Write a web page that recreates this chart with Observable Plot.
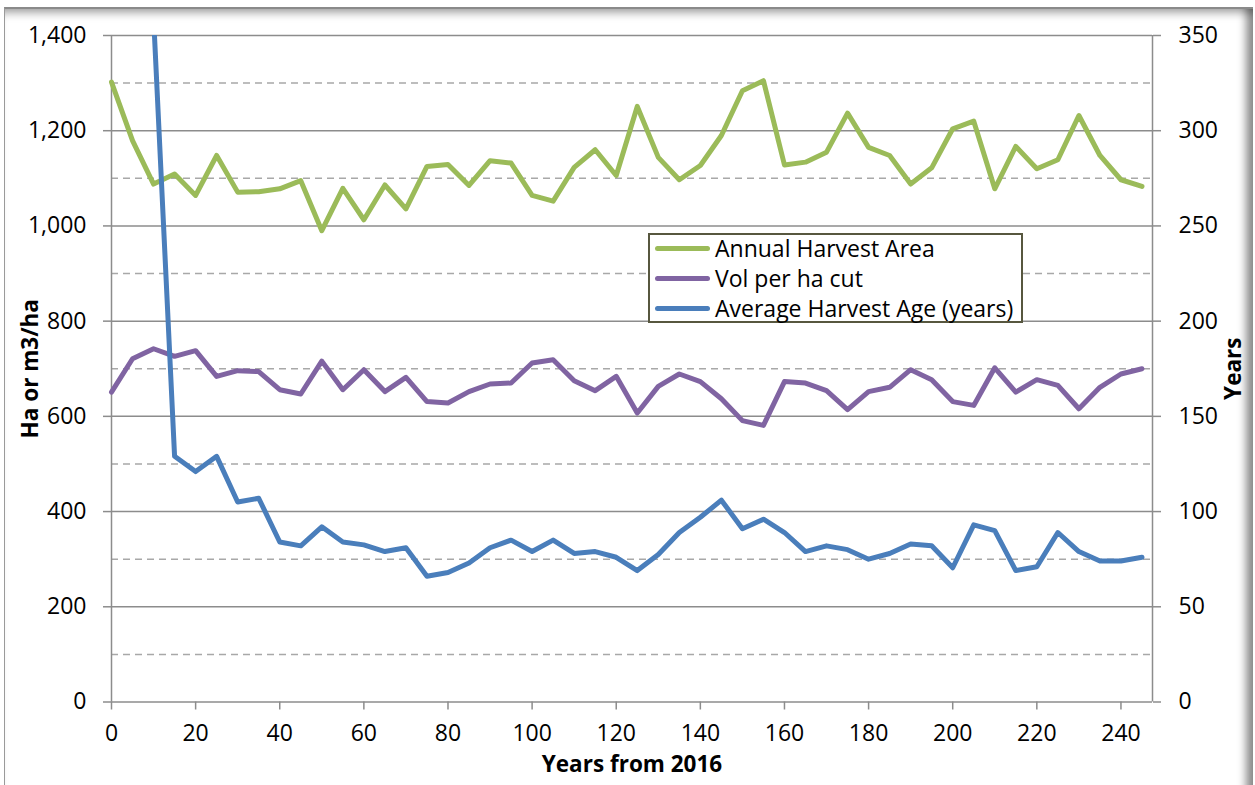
<!DOCTYPE html>
<html>
<head>
<meta charset="utf-8">
<script src="https://cdn.jsdelivr.net/npm/d3@7"></script>
<script src="https://cdn.jsdelivr.net/npm/@observablehq/plot@0.6"></script>
<style>
  html, body { margin: 0; padding: 0; background: #fff; }
  #wrap { position: relative; width: 1255px; height: 785px; overflow: hidden; font-family: "Open Sans", sans-serif; }
  #frame {
    position: absolute; left: 4px; top: 7px; width: 1248px; height: 800px;
    border-left: 1px solid #9a9a9a; border-top: 2px solid #8a8a8a;
    box-shadow: inset 0 10px 9px -6px rgba(0,0,0,0.35), inset -13px 0 9px -6px rgba(0,0,0,0.45);
    pointer-events: none;
  }
  #chart { position: absolute; left: 0; top: 0; }
  #legend {
    position: absolute; left: 648px; top: 233px; width: 371px; height: 86px;
    border: 2px solid #57573f; background: #fff; box-sizing: content-box;
  }
  .row { position: absolute; left: 0; height: 30px; display: flex; align-items: center; }
  .sw { width: 55px; height: 5px; border-radius: 3px; margin-left: 5px; margin-right: 5px; }
  .lbl { font-size: 23px; color: #000; white-space: nowrap; }
</style>
</head>
<body>
<div id="wrap">
  <div id="chart"></div>
  <div id="legend"></div>
  <div id="frame"></div>
</div>
<script>
// Years from 2016 (5-year steps)
const years = [0, 5, 10, 15, 20, 25, 30, 35, 40, 45,
  50, 55, 60, 65, 70, 75, 80, 85, 90, 95,
  100, 105, 110, 115, 120, 125, 130, 135, 140, 145,
  150, 155, 160, 165, 170, 175, 180, 185, 190, 195,
  200, 205, 210, 215, 220, 225, 230, 235, 240, 245];

// Annual Harvest Area (ha) — left axis
const harvestArea = [1302, 1179, 1088, 1109, 1064, 1148, 1071, 1072, 1078, 1095,
  990, 1079, 1013, 1086, 1036, 1125, 1129, 1085, 1137, 1132,
  1064, 1052, 1123, 1160, 1106, 1251, 1144, 1097, 1127, 1190,
  1284, 1305, 1128, 1134, 1155, 1237, 1165, 1148, 1088, 1122,
  1204, 1220, 1078, 1167, 1120, 1139, 1232, 1148, 1097, 1083];

// Vol per ha cut (m3/ha) — left axis
const volPerHa = [651, 721, 742, 726, 738, 684, 696, 694, 656, 647,
  716, 656, 698, 652, 682, 631, 628, 652, 668, 670,
  712, 719, 675, 654, 684, 607, 663, 689, 673, 637,
  591, 581, 673, 670, 654, 614, 652, 661, 698, 677,
  631, 623, 702, 651, 677, 665, 616, 661, 689, 700];

// Average Harvest Age (years) — right axis
const harvestAge = [700, 700, 360, 129, 121, 129, 105, 107, 84, 82,
  92, 84, 82.5, 79, 81, 66, 68, 73, 81, 85,
  79, 85, 78, 79, 76, 69, 77.5, 89, 97, 106,
  91, 96, 89, 79, 82, 80, 75, 78, 83, 82,
  70.5, 93, 90, 69, 71, 89, 79, 74, 74, 76];

// Axis ticks
const leftTicks = [0, 200, 400, 600, 800, 1000, 1200, 1400];
const minorTicks = [100, 300, 500, 700, 900, 1100, 1300];
const xTicks = [0, 20, 40, 60, 80, 100, 120, 140, 160, 180, 200, 220, 240];
const yearsPerUnit = 0.25; // right axis: 350 years spans the left axis 0–1400

const seriesNames = ["Annual Harvest Area", "Vol per ha cut", "Average Harvest Age (years)"];
const seriesColors = ["#9bbb59", "#8064a2", "#4a7ebb"];

const rows = years.map((yr, i) => ({
  year: yr,
  area: harvestArea[i],
  vol: volPerHa[i],
  ageScaled: harvestAge[i] / yearsPerUnit
}));

const gridColor = "#8c8c8c";

const chart = Plot.plot({
  width: 1255,
  height: 785,
  marginLeft: 111,
  marginRight: 103,
  marginTop: 35,
  marginBottom: 83.5,
  style: { fontFamily: "Open Sans, sans-serif", fontSize: "23px", color: "#000", background: "transparent" },
  x: { domain: [0, 247.5] },
  y: { domain: [0, 1400] },
  marks: [
    Plot.ruleY(minorTicks, { stroke: "#a8a8a8", strokeWidth: 1.5, strokeDasharray: "7,5" }),
    Plot.gridY(leftTicks, { stroke: gridColor, strokeOpacity: 1, strokeWidth: 1.5 }),
    Plot.ruleX([0, 247.5], { stroke: gridColor, strokeWidth: 1.5 }),
    Plot.axisY(leftTicks, {
      anchor: "left", tickSize: 8, tickPadding: 17, stroke: gridColor, strokeWidth: 1.5,
      fill: "#000", tickFormat: d3.format(","), label: null, fontSize: 23
    }),
    Plot.axisY(leftTicks, {
      anchor: "right", tickSize: 8, tickPadding: 18, stroke: gridColor, strokeWidth: 1.5,
      fill: "#000", tickFormat: d => d * yearsPerUnit, label: null, fontSize: 23
    }),
    Plot.axisX(xTicks, {
      anchor: "bottom", tickSize: 8, tickPadding: 15, stroke: gridColor, strokeWidth: 1.5,
      fill: "#000", label: null, fontSize: 23
    }),
    Plot.text(["Ha or m3/ha"], { frameAnchor: "left", dx: -81, rotate: -90, textAnchor: "middle", fontWeight: "bold", fontSize: 22.5, fill: "#000" }),
    Plot.text(["Years"], { frameAnchor: "right", dx: 81, rotate: -90, textAnchor: "middle", fontWeight: "bold", fontSize: 22.5, fill: "#000" }),
    Plot.text(["Years from 2016"], { frameAnchor: "bottom", dy: 70, textAnchor: "middle", fontWeight: "bold", fontSize: 22.5, fill: "#000" }),
    Plot.line(rows, { x: "year", y: "area", stroke: seriesColors[0], strokeWidth: 5, strokeLinejoin: "round", strokeLinecap: "round" }),
    Plot.line(rows, { x: "year", y: "vol", stroke: seriesColors[1], strokeWidth: 5, strokeLinejoin: "round", strokeLinecap: "round" }),
    Plot.line(rows, { x: "year", y: "ageScaled", stroke: seriesColors[2], strokeWidth: 5, strokeLinejoin: "round", strokeLinecap: "round", clip: true })
  ]
});
document.getElementById("chart").appendChild(chart);

// Legend box
const legend = document.getElementById("legend");
seriesNames.forEach((name, i) => {
  const row = document.createElement("div");
  row.className = "row";
  row.style.top = (i * 30 - 2) + "px";
  const sw = document.createElement("div");
  sw.className = "sw";
  sw.style.background = seriesColors[i];
  const lbl = document.createElement("span");
  lbl.className = "lbl";
  lbl.textContent = name;
  row.appendChild(sw);
  row.appendChild(lbl);
  legend.appendChild(row);
});
</script>
</body>
</html>
